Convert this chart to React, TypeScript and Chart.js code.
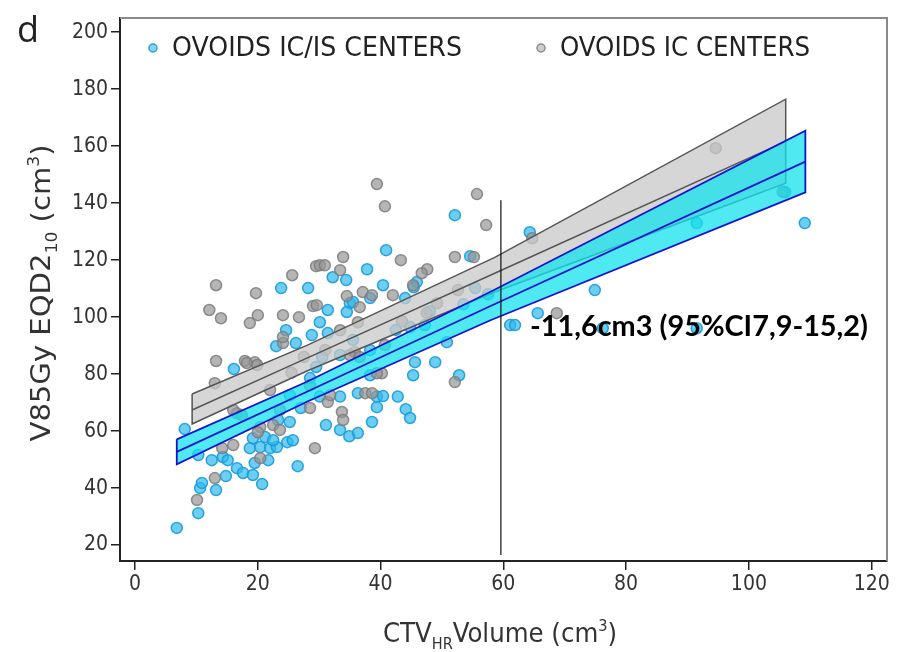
import React, { useEffect, useRef } from 'react';
import { Chart, registerables } from 'chart.js';

Chart.register(...registerables);

// ---------- data ----------
const icisX = [6.8, 10.3, 10.6, 10.9, 13.2, 14.8, 10.3, 12.5, 14.3, 15.1, 16.6, 17.6, 19.2, 19.5, 21.7, 20.7, 26.5, 8.1, 18.7, 20.4, 22.0, 23.1, 24.8, 25.7, 19.2, 21.2, 22.5, 23.3, 25.2, 28.5, 16.1, 27.0, 25.2, 23.0, 26.2, 24.6, 28.8, 30.1, 23.8, 28.2, 31.4, 31.4, 35.0, 34.5, 32.2, 34.4, 37.8, 40.9, 40.4, 35.5, 38.3, 44.0, 45.9, 45.4, 44.8, 47.2, 50.8, 45.6, 48.9, 52.1, 54.6, 55.4, 45.3, 52.8, 38.3, 33.4, 36.3, 39.4, 40.4, 42.8, 39.4, 44.1, 44.8, 38.6, 31.1, 33.4, 34.9, 36.3, 30.1, 38.3, 33.4, 30.5, 61.1, 61.9, 65.6, 64.3, 74.9, 76.2, 91.5, 91.5, 105.9, 109.1, 29.5, 35.5, 42.5, 48.0, 53.5, 57.5];
const icisY = [26.0, 31.2, 40.0, 41.8, 39.3, 44.2, 51.6, 49.8, 50.9, 49.8, 47.0, 45.3, 44.6, 48.8, 49.8, 41.4, 47.7, 60.7, 54.0, 54.4, 54.0, 54.4, 56.1, 56.8, 57.5, 57.9, 56.8, 63.9, 63.2, 78.6, 81.8, 68.1, 72.6, 89.8, 90.9, 95.4, 93.7, 98.2, 110.2, 110.2, 102.5, 94.4, 104.9, 101.8, 114.0, 113.0, 116.8, 123.5, 111.2, 105.3, 106.7, 106.7, 112.3, 110.5, 96.5, 97.2, 91.2, 84.2, 84.2, 135.8, 121.4, 110.2, 79.6, 79.6, 79.6, 72.1, 73.3, 72.1, 72.3, 72.1, 68.4, 67.7, 64.6, 63.2, 62.1, 60.4, 58.2, 59.3, 72.1, 88.4, 86.7, 86.0, 97.2, 97.2, 101.4, 129.8, 109.5, 96.1, 96.1, 133.0, 143.9, 133.0, 82.5, 92.0, 95.5, 102.0, 104.5, 108.0];

const icX = [13.2, 12.1, 14.0, 19.7, 20.0, 18.7, 25.6, 29.5, 24.1, 26.7, 29.0, 13.2, 17.9, 19.5, 24.1, 24.1, 39.4, 40.7, 55.7, 57.2, 43.3, 52.1, 55.2, 33.9, 30.1, 30.9, 33.4, 47.6, 46.7, 45.3, 34.5, 37.1, 38.6, 42.0, 29.6, 36.6, 52.6, 36.3, 40.7, 35.8, 49.2, 33.4, 13.0, 16.6, 16.0, 17.4, 20.4, 20.0, 22.5, 23.6, 14.2, 16.0, 23.6, 28.5, 29.3, 13.0, 10.1, 20.4, 52.1, 33.7, 33.9, 31.4, 31.8, 37.5, 38.6, 40.2, 39.4, 35.0, 36.6, 94.6, 105.5, 68.7, 64.7, 22.0, 28.5, 18.2, 19.9, 25.5, 27.5, 31.0, 43.5, 47.5];
const icY = [111.2, 102.5, 99.6, 108.4, 100.7, 97.9, 114.7, 117.9, 100.7, 100.0, 103.9, 84.6, 84.6, 84.2, 90.9, 93.0, 146.7, 138.9, 143.2, 132.3, 120.0, 121.1, 121.1, 121.1, 118.2, 118.2, 116.5, 116.8, 115.4, 111.2, 107.4, 108.8, 107.7, 107.7, 104.2, 103.5, 109.5, 98.2, 90.2, 87.7, 104.9, 95.4, 76.8, 66.3, 67.4, 65.5, 61.4, 59.6, 62.1, 60.4, 54.0, 55.1, 67.4, 68.1, 54.0, 43.5, 35.8, 50.5, 77.2, 66.7, 63.9, 70.2, 72.6, 73.3, 73.3, 80.3, 80.3, 86.7, 86.0, 159.3, 144.0, 101.4, 127.7, 74.4, 76.1, 83.9, 83.2, 80.5, 86.0, 88.5, 98.5, 101.5];

const icisBandX = [6.8, 28, 58, 109.2];
const icisBandUpper = [57.1, 77.3, 109.0, 165.4];
const icisBandCenter = [52.7, 73.8, 104.0, 154.6];
const icisBandLower = [48.3, 70.3, 99.0, 143.8];

const icBandX = [9.3, 28, 58.6, 106];
const icBandUpper = [73.0, 90.1, 121.0, 176.5];
const icBandCenter = [67.4, 85.6, 115.4, 161.7];
const icBandLower = [62.5, 81.1, 108.8, 147.0];

const refLineX = [59.6, 59.6];
const refLineY = [141, 16.5];

const xTicks = [0, 20, 40, 60, 80, 100, 120];
const yTicks = [20, 40, 60, 80, 100, 120, 140, 160, 180, 200];

const legendLabels = ['OVOIDS IC/IS CENTERS', 'OVOIDS IC CENTERS'];
const annotationText = '-11,6cm3 (95%CI7,9-15,2)';
const panelLabel = 'd';
const yTitle = [
  { t: 'V85Gy EQD2', k: 'n' },
  { t: '10', k: 'sub' },
  { t: ' (cm', k: 'n' },
  { t: '3', k: 'sup' },
  { t: ')', k: 'n' },
];
const xTitle = [
  { t: 'CTV', k: 'n' },
  { t: 'HR', k: 'sub' },
  { t: 'Volume (cm', k: 'n' },
  { t: '3', k: 'sup' },
  { t: ')', k: 'n' },
];

// ---------- helpers ----------
const COND = "'DejaVu Sans Condensed', 'DejaVu Sans', sans-serif";

const pts = (xs: number[], ys: number[]) => xs.map((x, i) => ({ x, y: ys[i] }));
const band = (xs: number[], up: number[], lo: number[]) => {
  const a = xs.map((x, i) => ({ x, y: up[i] }));
  const b = xs.map((x, i) => ({ x, y: lo[i] })).reverse();
  return [...a, ...b, a[0]];
};

function drawFitted(ctx: CanvasRenderingContext2D, text: string, x: number, y: number, width: number, font: string, color: string) {
  ctx.save();
  ctx.font = font;
  ctx.fillStyle = color;
  ctx.textBaseline = 'middle';
  ctx.textAlign = 'left';
  const w = ctx.measureText(text).width;
  ctx.translate(x, y);
  ctx.scale(width / w, 1);
  ctx.fillText(text, 0, 0);
  ctx.restore();
}

function drawRich(ctx: CanvasRenderingContext2D, segs: { t: string; k: string }[], size: number, width: number, color: string) {
  const fontFor = (k: string) => `${k === 'n' ? size : Math.round(size * 0.6)}px ${COND}`;
  let total = 0;
  const widths = segs.map((s) => {
    ctx.font = fontFor(s.k);
    const w = ctx.measureText(s.t).width;
    total += w;
    return w;
  });
  const sx = width / total;
  ctx.save();
  ctx.scale(sx, 1);
  ctx.fillStyle = color;
  ctx.textBaseline = 'alphabetic';
  ctx.textAlign = 'left';
  let x = -total / 2;
  const base = size * 0.36;
  segs.forEach((s, i) => {
    ctx.font = fontFor(s.k);
    let y = base;
    if (s.k === 'sub') y = base + size * 0.28;
    if (s.k === 'sup') y = base - size * 0.38;
    ctx.fillText(s.t, x, y);
    x += widths[i];
  });
  ctx.restore();
}

const decorPlugin = {
  id: 'decor',
  afterDraw(chart: any) {
    const { ctx, chartArea } = chart;
    const { left, right, top, bottom } = chartArea;
    ctx.save();
    // top/right frame
    ctx.strokeStyle = '#8a8a8a';
    ctx.lineWidth = 2;
    ctx.beginPath();
    ctx.moveTo(left, top);
    ctx.lineTo(right, top);
    ctx.lineTo(right, bottom);
    ctx.stroke();

    // legend
    const markers = [
      { x: 153, fill: 'rgba(120,210,245,0.9)', stroke: 'rgba(40,160,220,1)' },
      { x: 541, fill: 'rgba(200,200,200,0.9)', stroke: 'rgba(140,140,140,1)' },
    ];
    const textX = [172, 560];
    const textW = [290, 250];
    markers.forEach((m, i) => {
      ctx.beginPath();
      ctx.arc(m.x, 48, 4, 0, Math.PI * 2);
      ctx.fillStyle = m.fill;
      ctx.fill();
      ctx.lineWidth = 1.5;
      ctx.strokeStyle = m.stroke;
      ctx.stroke();
      drawFitted(ctx, legendLabels[i], textX[i], 49, textW[i], `27px ${COND}`, '#222');
    });

    // annotation
    drawFitted(ctx, annotationText, 530, 327, 338, `bold 29px Lato, 'Open Sans', sans-serif`, '#000');

    // panel label
    ctx.font = `36px 'Open Sans', 'DejaVu Sans', sans-serif`;
    ctx.fillStyle = '#222';
    ctx.textBaseline = 'alphabetic';
    ctx.textAlign = 'left';
    ctx.fillText(panelLabel, 17, 42);

    // y title
    ctx.save();
    ctx.translate(40, 293);
    ctx.rotate(-Math.PI / 2);
    drawRich(ctx, yTitle, 27, 297, '#333');
    ctx.restore();

    // x title
    ctx.save();
    ctx.translate(500, 632);
    drawRich(ctx, xTitle, 27, 234, '#333');
    ctx.restore();
    ctx.restore();
  },
};

export default function App() {
  const ref = useRef<HTMLCanvasElement | null>(null);

  useEffect(() => {
    if (!ref.current) return;
    const chart = new Chart(ref.current, {
      type: 'scatter',
      data: {
        datasets: [
          {
            label: 'ref',
            data: pts(refLineX, refLineY),
            showLine: true,
            borderColor: '#111',
            borderWidth: 1.2,
            pointRadius: 0,
            fill: false,
          } as any,
          {
            label: 'icisCenter',
            data: pts(icisBandX, icisBandCenter),
            showLine: true,
            borderColor: 'rgb(20,20,210)',
            borderWidth: 1.8,
            pointRadius: 0,
            fill: false,
          },
          {
            label: 'icisBand',
            data: band(icisBandX, icisBandUpper, icisBandLower),
            showLine: true,
            borderColor: 'rgb(20,20,210)',
            borderWidth: 1.8,
            backgroundColor: 'rgba(20,226,236,0.75)',
            pointRadius: 0,
            fill: 'shape',
          },
          {
            label: 'icCenter',
            data: pts(icBandX, icBandCenter),
            showLine: true,
            borderColor: 'rgb(85,85,85)',
            borderWidth: 1.5,
            pointRadius: 0,
            fill: false,
          },
          {
            label: 'icBand',
            data: band(icBandX, icBandUpper, icBandLower),
            showLine: true,
            borderColor: 'rgb(85,85,85)',
            borderWidth: 1.5,
            backgroundColor: 'rgba(200,200,200,0.75)',
            pointRadius: 0,
            fill: 'shape',
          },
          {
            label: legendLabels[1],
            data: pts(icX, icY),
            backgroundColor: 'rgba(150,150,150,0.7)',
            borderColor: 'rgba(125,125,125,0.85)',
            borderWidth: 1.5,
            pointRadius: 5.5,
          },
          {
            label: legendLabels[0],
            data: pts(icisX, icisY),
            backgroundColor: 'rgba(45,185,235,0.7)',
            borderColor: 'rgba(25,155,220,0.9)',
            borderWidth: 1.5,
            pointRadius: 5.5,
          },
        ],
      },
      options: {
        animation: false,
        responsive: false,
        maintainAspectRatio: false,
        layout: { padding: { top: 18, right: 15, left: 0, bottom: 0 } },
        plugins: {
          legend: { display: false },
          tooltip: { enabled: false },
        },
        elements: { line: { tension: 0 } },
        scales: {
          x: {
            type: 'linear',
            min: -2.45,
            max: 122.5,
            afterBuildTicks: (axis: any) => {
              axis.ticks = xTicks.map((v) => ({ value: v }));
            },
            afterFit: (scale: any) => {
              scale.height = 91;
            },
            grid: { display: true, drawOnChartArea: false, drawTicks: true, tickLength: 9, color: '#222', lineWidth: 1.5 },
            border: { display: true, color: '#222', width: 2 },
            ticks: { color: '#333', font: { family: COND, size: 21 }, padding: 2, maxRotation: 0 },
            title: { display: false },
          },
          y: {
            type: 'linear',
            min: 14.4,
            max: 205,
            afterBuildTicks: (axis: any) => {
              axis.ticks = yTicks.map((v) => ({ value: v }));
            },
            afterFit: (scale: any) => {
              scale.width = 120;
            },
            grid: { display: true, drawOnChartArea: false, drawTicks: true, tickLength: 9, color: '#222', lineWidth: 1.5 },
            border: { display: true, color: '#222', width: 2 },
            ticks: { color: '#333', font: { family: COND, size: 21 }, padding: 3 },
            title: { display: false },
          },
        },
      },
      plugins: [decorPlugin],
    });
    return () => chart.destroy();
  }, []);

  return (
    <div style={{ position: 'fixed', left: 0, top: 0, width: 902, height: 652, background: '#fff' }}>
      <canvas ref={ref} width={902} height={652} />
    </div>
  );
}
